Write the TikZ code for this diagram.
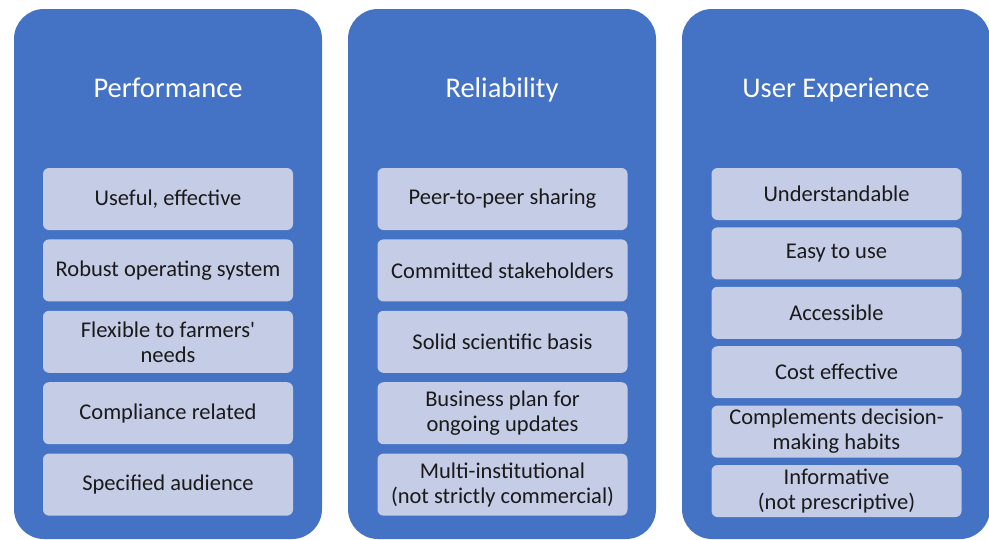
\documentclass[tikz,border=0pt]{standalone}
\usepackage{fontspec}
\setmainfont{Carlito}
\usetikzlibrary{positioning}
\definecolor{colblue}{HTML}{4472C4}
\definecolor{itemfill}{HTML}{C5CCE6}
\definecolor{itemtext}{HTML}{1A1A1A}
\tikzset{
  column/.style={fill=colblue, rounded corners=30pt, minimum width=308pt, minimum height=530pt, inner sep=0pt},
  coltitle/.style={text=white, font=\fontsize{28.5}{34}\selectfont, anchor=base},
  item/.style={fill=itemfill, rounded corners=6pt, minimum width=250pt, minimum height=62pt, align=center,
    font=\fontsize{22.5}{25}\selectfont, text=itemtext, inner xsep=2pt, inner ysep=1pt},
  itemsm/.style={item, minimum height=52pt}
}
\begin{document}
\begin{tikzpicture}[x=1pt,y=-1pt]
\useasboundingbox (0,0) rectangle (989,539);

% three columns
\node[column] (perf) at (168,274) {};
\node[column] (rel)  at (502,274) {};
\node[column] (ux)   at (836,274) {};

\node[coltitle] (perft) at (168,97) {Performance};
\node[coltitle] (relt)  at (502,97) {Reliability};
\node[coltitle] (uxt)   at (836,97) {User Experience};

% performance
\node[item] (p1) at (168,199) {Useful, effective};
\node[item, below=9pt of p1] (p2) {Robust operating system};
\node[item, below=9pt of p2] (p3) {Flexible to farmers\textquotesingle\\needs};
\node[item, below=9pt of p3] (p4) {Compliance related};
\node[item, below=9pt of p4] (p5) {Specified audience};

% reliability
\node[item] (r1) at (502.5,199) {Peer-to-peer sharing};
\node[item, below=9pt of r1] (r2) {Committed stakeholders};
\node[item, below=9pt of r2] (r3) {Solid scientific basis};
\node[item, below=9pt of r3] (r4) {Business plan for\\ongoing updates};
\node[item, below=9pt of r4] (r5) {Multi-institutional\\(not strictly commercial)};

% user experience
\node[itemsm] (u1) at (836.5,194) {Understandable};
\node[itemsm, below=7pt of u1] (u2) {Easy to use};
\node[itemsm, below=7pt of u2] (u3) {Accessible};
\node[itemsm, below=7pt of u3] (u4) {Cost effective};
\node[itemsm, below=7pt of u4] (u5) {Complements decision-\\making habits};
\node[itemsm, below=7pt of u5] (u6) {Informative\\(not prescriptive)};
\end{tikzpicture}
\end{document}
